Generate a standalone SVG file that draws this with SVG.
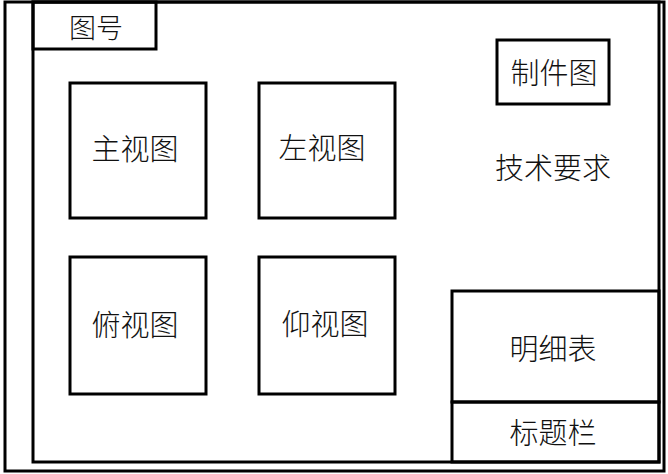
<svg xmlns="http://www.w3.org/2000/svg" width="668" height="474" viewBox="0 0 668 474">
<style>
.b{fill:none;stroke:#000;stroke-width:3}
.t{font-family:"Noto Sans CJK SC","Noto Sans CJK JP",sans-serif;font-size:29px;fill:#111;text-anchor:middle;dominant-baseline:central;font-weight:300}
</style>
<rect width="668" height="474" fill="#fff"/>
<g id="frame">
<rect class="b" x="5" y="2" width="659" height="469"/>
<rect class="b" x="33" y="2" width="626" height="460"/>
</g>
<g id="tuhao"><rect class="b" x="33" y="2" width="123" height="47"/><text class="t" x="96" y="26" style="font-size:27px">图号</text></g>
<g id="zhushitu"><rect class="b" x="70" y="83" width="136" height="135"/><text class="t" x="135" y="147">主视图</text></g>
<g id="zuoshitu"><rect class="b" x="259" y="83" width="136" height="135"/><text class="t" x="322" y="146">左视图</text></g>
<g id="fushitu"><rect class="b" x="70" y="257" width="136" height="137"/><text class="t" x="135" y="323">俯视图</text></g>
<g id="yangshitu"><rect class="b" x="259" y="257" width="136" height="137"/><text class="t" x="325" y="322">仰视图</text></g>
<g id="zhijiantu"><rect class="b" x="497" y="40" width="112" height="64"/><text class="t" x="554" y="71">制件图</text></g>
<g id="jishuyaoqiu"><text class="t" x="553" y="166">技术要求</text></g>
<g id="mingxibiao"><rect class="b" x="452" y="291" width="207" height="111"/><text class="t" x="553" y="347">明细表</text></g>
<g id="biaotilan"><rect class="b" x="452" y="402" width="207" height="60"/><text class="t" x="553" y="431">标题栏</text></g>
</svg>
